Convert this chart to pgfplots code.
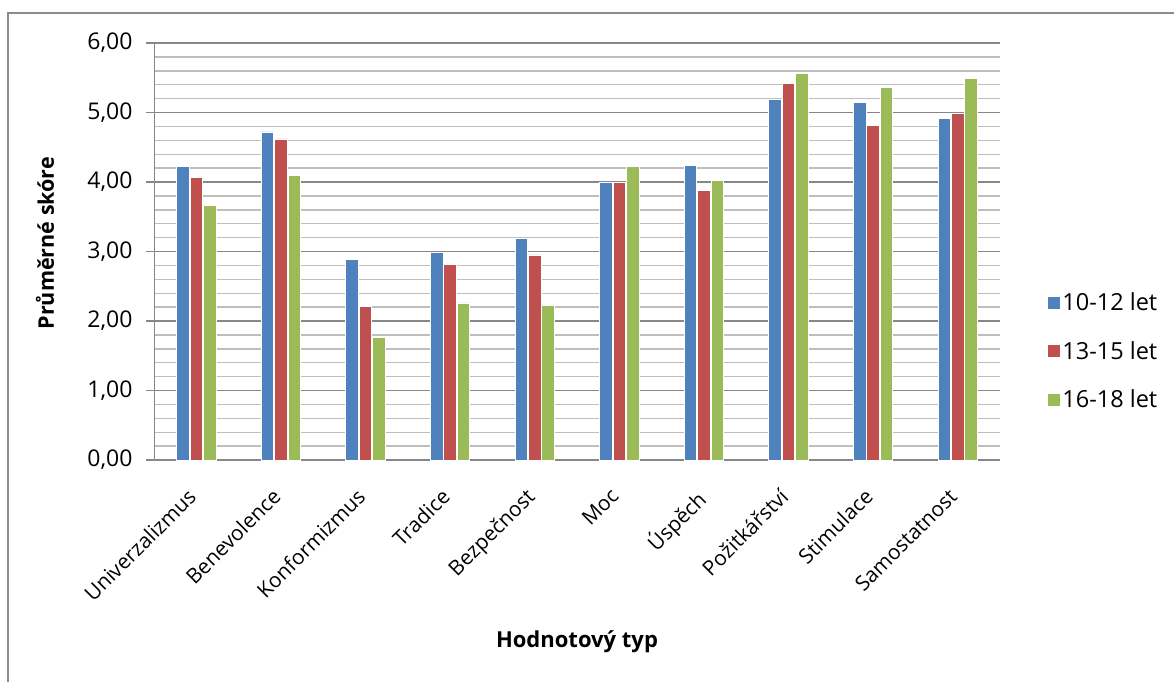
\documentclass[border=0pt]{standalone}
\usepackage{pgfplots}
\pgfplotsset{compat=1.18}
\usepackage{fontspec}
\setmainfont{Open Sans}
\definecolor{cblue}{HTML}{4F81BD}
\definecolor{cred}{HTML}{C0504D}
\definecolor{cgreen}{HTML}{9BBB59}
\definecolor{majgray}{HTML}{878787}
\definecolor{mingray}{HTML}{BEBEBE}
\definecolor{framegray}{HTML}{8C8C8C}
\begin{document}
\begin{tikzpicture}[x=1pt,y=1pt]
\useasboundingbox (0,0) rectangle (1174,681);
\draw[framegray, line width=1.4pt] (8,-5) -- (8,668) -- (1180,668);
\begin{axis}[
  at={(154pt,221pt)}, anchor=south west,
  scale only axis, width=846pt, height=417pt,
  xmin=-0.5, xmax=9.5, ymin=0, ymax=6,
  ybar=0.8pt, bar width=12.6pt,
  axis line style={draw=none},
  xtick={0,...,9},
  xticklabels={Univerzalizmus,Benevolence,Konformizmus,Tradice,Bezpečnost,Moc,Úspěch,Požitkářství,Stimulace,Samostatnost},
  x tick label style={xshift=-10pt, yshift=-19pt, rotate=45, anchor=north east, font=\fontsize{20.8}{25}\selectfont, inner sep=0pt},
  major x tick style={draw=none},
  ytick={0,1,...,6},
  minor y tick num=4,
  ytick pos=left,
  tick align=outside,
  major tick length=8pt,
  minor tick length=0pt,
  major tick style={majgray, line width=1.3pt},
  ymajorgrids, yminorgrids,
  major grid style={majgray, line width=1.4pt},
  minor grid style={mingray, line width=1.4pt},
  y tick label style={font=\fontsize{23}{27}\selectfont, xshift=-10pt},
  yticklabel style={/pgf/number format/fixed, /pgf/number format/fixed zerofill, /pgf/number format/precision=2, /pgf/number format/use comma, /pgf/number format/assume math mode=true},
  ylabel={\bfseries Průměrné skóre},
  ylabel style={at={(axis description cs:-0.129,0.52)}, anchor=center, font=\fontsize{21.5}{25}\selectfont},
  xlabel={\bfseries Hodnotový typ},
  xlabel style={at={(axis description cs:0.5,-0.436)}, anchor=center, font=\fontsize{22}{25}\selectfont},
  legend style={at={(1.057,0.261)}, anchor=west, draw=none, fill=none, font=\fontsize{23.5}{27}\selectfont, row sep=25pt, inner sep=0pt, nodes={inner sep=2pt}},
  legend cell align=left,
  legend image code/.code={\fill[#1, draw=none] (-4pt,-6pt) rectangle (8pt,6pt);},
]
\addplot[fill=cblue, draw=white, line width=0.8pt] coordinates {(0,4.22) (1,4.72) (2,2.88) (3,2.99) (4,3.19) (5,3.99) (6,4.24) (7,5.19) (8,5.15) (9,4.92)};
\addplot[fill=cred, draw=white, line width=0.8pt] coordinates {(0,4.06) (1,4.62) (2,2.21) (3,2.82) (4,2.95) (5,3.99) (6,3.88) (7,5.42) (8,4.82) (9,4.98)};
\addplot[fill=cgreen, draw=white, line width=0.8pt] coordinates {(0,3.66) (1,4.09) (2,1.76) (3,2.26) (4,2.22) (5,4.22) (6,4.02) (7,5.56) (8,5.36) (9,5.49)};
\legend{10-12 let,13-15 let,16-18 let}
\draw[majgray, line width=1.4pt] (rel axis cs:0,0) -- (rel axis cs:0,1);
\end{axis}
\end{tikzpicture}
\end{document}
